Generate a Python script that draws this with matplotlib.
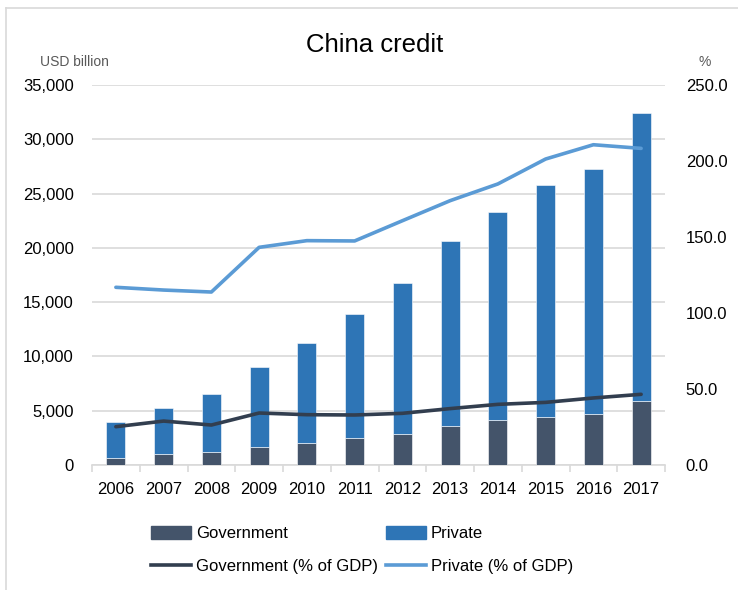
import matplotlib.pyplot as plt
import numpy as np
from matplotlib.lines import Line2D

plt.rcParams['font.family'] = ['Liberation Sans', 'DejaVu Sans']

years = ['2006', '2007', '2008', '2009', '2010', '2011',
         '2012', '2013', '2014', '2015', '2016', '2017']
# USD billion
government = [650, 1000, 1170, 1660, 2000, 2520, 2890, 3560, 4110, 4390, 4670, 5870]
total = [3930, 5280, 6540, 9000, 11250, 13930, 16760, 20630, 23300, 25770, 27230, 32390]
private = [t - g for t, g in zip(total, government)]
# % of GDP
gov_pct = [25.2, 28.9, 26.3, 34.2, 33.1, 32.9, 34.0, 37.1, 39.9, 41.2, 44.1, 46.5]
priv_pct = [116.9, 115.1, 113.8, 143.2, 147.6, 147.4, 160.7, 173.9, 184.9, 201.3, 210.7, 208.3]

c_gov = '#44546A'
c_priv = '#2E75B6'
c_gov_line = '#323E4F'
c_priv_line = '#5B9BD5'

fig = plt.figure(figsize=(7.38, 5.90), dpi=100)
ax = fig.add_axes([92/738, 1-465/590, (665-92)/738, (465-85)/590])
ax2 = ax.twinx()

x = np.arange(len(years))
ax.bar(x, government, width=0.4, color=c_gov, zorder=3, edgecolor='white', linewidth=0.4)
ax.bar(x, private, width=0.4, bottom=government, color=c_priv, zorder=3,
       edgecolor='white', linewidth=0.4)

ax2.plot(x, gov_pct, color=c_gov_line, lw=2.6, solid_capstyle='round', zorder=4)
ax2.plot(x, priv_pct, color=c_priv_line, lw=2.6, solid_capstyle='round', zorder=4)

ax.set_ylim(0, 35000)
ax.set_yticks(np.arange(0, 35001, 5000))
ax.set_yticklabels([f'{v:,}' for v in range(0, 35001, 5000)])
ax2.set_ylim(0, 250)
ax2.set_yticks(np.arange(0, 251, 50))
ax2.set_yticklabels([f'{v:.1f}' for v in range(0, 251, 50)])
ax.set_xlim(-0.5, len(years) - 0.5)
ax.set_xticks(x)
ax.set_xticklabels(years)
ax.set_xticks(np.arange(-0.5, len(years)), minor=True)

ax.grid(axis='y', color='#D9D9D9', lw=1.2, zorder=0)
for a in (ax, ax2):
    for s in ('left', 'right', 'top'):
        a.spines[s].set_visible(False)
ax.spines['bottom'].set_color('#D9D9D9')
ax.spines['bottom'].set_linewidth(1.2)
ax2.spines['bottom'].set_visible(False)

ax.tick_params(axis='x', which='major', length=0, labelsize=12, pad=12)
ax.tick_params(axis='x', which='minor', length=5, color='#D9D9D9', width=1.2)
ax.tick_params(axis='y', length=0, labelsize=12, pad=13)
ax2.tick_params(axis='y', length=0, labelsize=12, pad=15)

fig.text(375/738, 1-45/590, 'China credit', fontsize=18.5, ha='center', va='center')
fig.text(40/738, 1-62/590, 'USD billion', fontsize=10, color='#595959', ha='left', va='center')
fig.text(705/738, 1-62/590, '%', fontsize=10, color='#595959', ha='center', va='center')

handles = [
    plt.Rectangle((0, 0), 1, 1, color=c_gov),
    Line2D([], [], color=c_gov_line, lw=2.6),
    plt.Rectangle((0, 0), 1, 1, color=c_priv),
    Line2D([], [], color=c_priv_line, lw=2.6),
]
labels = ['Government', 'Government (% of GDP)', 'Private', 'Private (% of GDP)']
fig.legend(handles, labels, ncol=2, loc='center', bbox_to_anchor=(362/738, 1-550/590),
           frameon=False, fontsize=12, handlelength=2.4, handleheight=0.8,
           columnspacing=0.5, labelspacing=1.05, handletextpad=0.3)

# chart area border
fig.add_artist(Line2D([6/738, 6/738], [0, 1-8/590], color='#D9D9D9', lw=1.2,
                      transform=fig.transFigure))
fig.add_artist(Line2D([6/738, 1], [1-8/590, 1-8/590], color='#D9D9D9', lw=1.2,
                      transform=fig.transFigure))

fig.savefig('out.png', dpi=100)
